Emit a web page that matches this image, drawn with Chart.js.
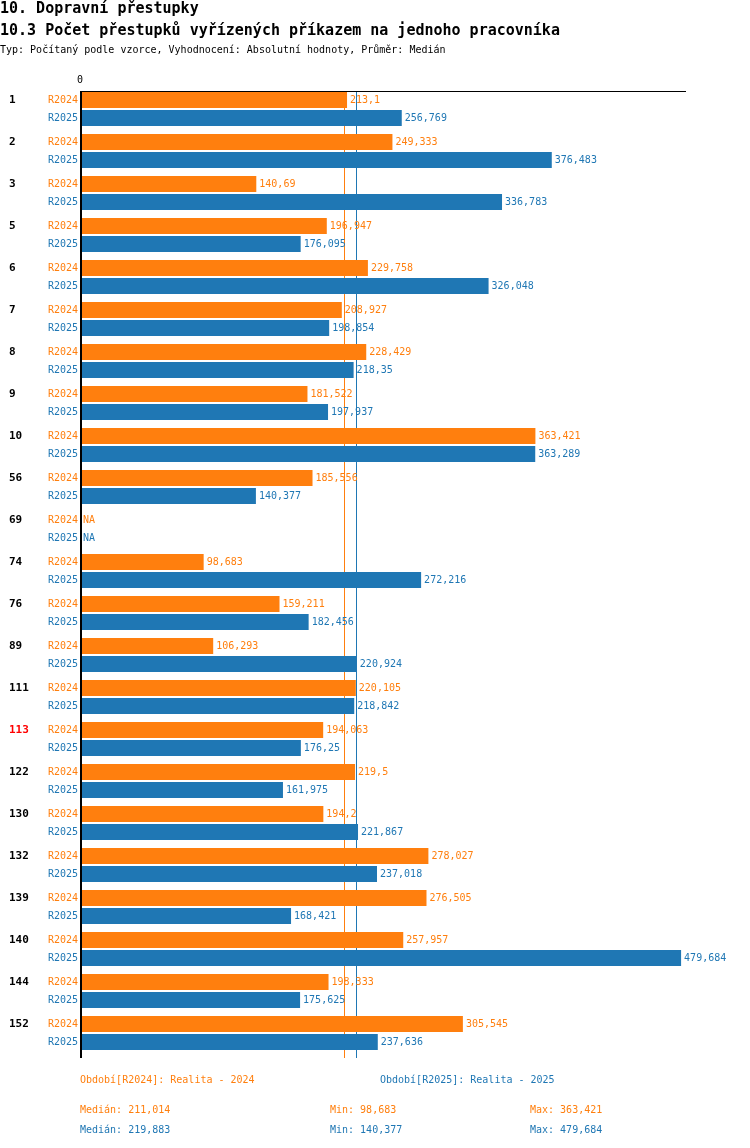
<!DOCTYPE html>
<html><head><meta charset="utf-8">
<script src="https://cdn.jsdelivr.net/npm/chart.js@4/dist/chart.umd.min.js"></script>
<style>
body{margin:0;background:#fff;font-family:"DejaVu Sans Mono",monospace;}
#wrap{position:relative;width:750px;height:1148px;}
#c{position:absolute;left:0;top:0;}
.t{position:absolute;white-space:pre;line-height:1;}
.h1{font-size:15px;font-weight:bold;color:#000;}
.s{font-size:10px;}
.o{color:#ff7f0e}.b{color:#1f77b4}
</style></head><body>
<div id="wrap">
<canvas id="c" width="750" height="1148"></canvas>
<div class="t h1" style="left:0;top:1px">10. Dopravní přestupky</div>
<div class="t h1" style="left:0;top:23px">10.3 Počet přestupků vyřízených příkazem na jednoho pracovníka</div>
<div class="t s" style="left:0;top:45px">Typ: Počítaný podle vzorce, Vyhodnocení: Absolutní hodnoty, Průměr: Medián</div>
<div id="legend"></div>
</div>
<script>
const categories = ["1","2","3","5","6","7","8","9","10","56","69","74","76","89","111","113","122","130","132","139","140","144","152"];
const highlighted = ["113"];
const seriesNames = ["R2024","R2025"];
const periodLabels = ["Období[R2024]: Realita - 2024","Období[R2025]: Realita - 2025"];
const values2024 = [213.1,249.333,140.69,196.947,229.758,208.927,228.429,181.522,363.421,185.556,null,98.683,159.211,106.293,220.105,194.063,219.5,194.2,278.027,276.505,257.957,198.333,305.545];
const values2025 = [256.769,376.483,336.783,176.095,326.048,198.854,218.35,197.937,363.289,140.377,null,272.216,182.456,220.924,218.842,176.25,161.975,221.867,237.018,168.421,479.684,175.625,237.636];
const medians = [211.014,219.883];
const mins = [98.683,140.377];
const maxs = [363.421,479.684];
const colors = ["#ff7f0e","#1f77b4"];

const fmt = v => v===null ? "NA" : String(v).replace(".", ",");
const FONT = '"DejaVu Sans Mono", monospace';

// legend (HTML text)
const lg = document.getElementById('legend');
function addText(txt, x, y, col){
  const d=document.createElement('div'); d.className='t s'; d.style.left=x+'px'; d.style.top=y+'px'; d.style.color=col; d.textContent=txt; lg.appendChild(d);
}
addText(periodLabels[0],80,1075,colors[0]);
addText(periodLabels[1],380,1075,colors[1]);
[0,1].forEach(i=>{
  const y = 1105 + i*20;
  addText("Medián: "+fmt(medians[i]),80,y,colors[i]);
  addText("Min: "+fmt(mins[i]),330,y,colors[i]);
  addText("Max: "+fmt(maxs[i]),530,y,colors[i]);
});

const deco = {
  id:'deco',
  beforeDatasetsDraw(chart){
    const ctx=chart.ctx, xs=chart.scales.x, ca=chart.chartArea;
    const b0=chart.getDatasetMeta(0).data[0];
    const top=Math.round(b0.y-b0.height/2)-0.5;
    const bottom=ca.bottom+4;
    ctx.save();
    medians.forEach((m,i)=>{
      const x=Math.round(xs.getPixelForValue(m))+0.5;
      ctx.strokeStyle=colors[i]; ctx.lineWidth=1;
      ctx.beginPath(); ctx.moveTo(x,top); ctx.lineTo(x,bottom); ctx.stroke();
    });
    ctx.restore();
  },
  afterDatasetsDraw(chart){
    const ctx=chart.ctx, xs=chart.scales.x, ca=chart.chartArea;
    const x0=xs.getPixelForValue(0);
    const b0=chart.getDatasetMeta(0).data[0];
    const top=Math.round(b0.y-b0.height/2)-0.5;
    const bottom=ca.bottom+4;
    ctx.save();
    // top border
    ctx.strokeStyle="#000"; ctx.lineWidth=1;
    ctx.beginPath(); ctx.moveTo(x0,top); ctx.lineTo(ca.right,top); ctx.stroke();
    // left axis
    ctx.fillStyle="#000"; ctx.fillRect(x0,top,2,bottom-top);
    // zero tick label
    ctx.font='10px '+FONT; ctx.textAlign='center'; ctx.textBaseline='middle';
    ctx.fillText("0",x0,top-11);
    // labels
    [values2024,values2025].forEach((vals,di)=>{
      const meta=chart.getDatasetMeta(di);
      meta.data.forEach((bar,i)=>{
        const y=bar.y+0.5;
        ctx.font='10px '+FONT; ctx.textBaseline='middle';
        ctx.fillStyle=colors[di];
        ctx.textAlign='right'; ctx.fillText(seriesNames[di],x0-2,y);
        ctx.textAlign='left';
        const v=vals[i];
        const xe = v===null ? x0+3 : bar.x+3;
        ctx.fillText(fmt(v),xe,y);
        if(di===0){
          ctx.font='bold 11px '+FONT;
          ctx.fillStyle = highlighted.includes(categories[i]) ? "#ff0000" : "#000";
          ctx.fillText(categories[i],9,y);
        }
      });
    });
    ctx.restore();
  }
};

new Chart(document.getElementById('c'),{
  type:'bar',
  data:{labels:categories,datasets:[
    {label:seriesNames[0],data:values2024,backgroundColor:colors[0],borderWidth:0},
    {label:seriesNames[1],data:values2025,backgroundColor:colors[1],borderWidth:0}
  ]},
  options:{
    indexAxis:'y',responsive:false,animation:false,devicePixelRatio:1,
    categoryPercentage:36/42,barPercentage:16/18,
    layout:{padding:{left:80,right:64,top:88,bottom:94}},
    plugins:{legend:{display:false},tooltip:{enabled:false}},
    scales:{
      x:{display:false,min:0,max:483.6},
      y:{display:false}
    }
  },
  plugins:[deco]
});
</script>
</body></html>
